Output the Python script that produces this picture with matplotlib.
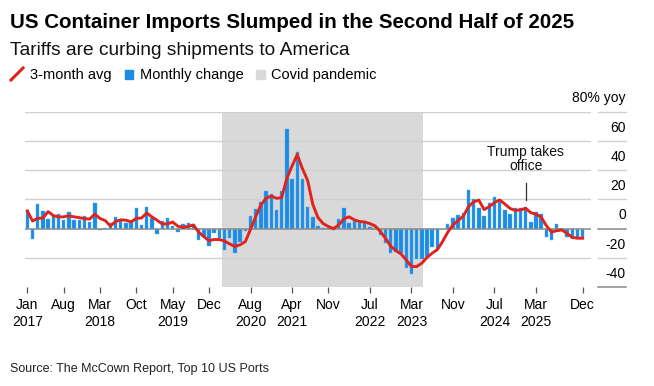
import matplotlib
matplotlib.use("Agg")
import matplotlib.pyplot as plt
from matplotlib.lines import Line2D
from matplotlib.patches import Rectangle

plt.rcParams['font.family'] = ['Liberation Sans', 'DejaVu Sans']

# months since Jan 2017 (0 .. 107 = Dec 2025)
monthly_change = [
    13, -7, 17, 12, 6.5, 8.5, 10, 5.7, 11.4, 6, 6.2, 8.6,            # 2017
    4.2, 17.3, -1, 0.7, 3.5, 8, 5.5, 3.6, 4.3, 13.9, 2.5, 14.5,       # 2018
    7, -3.6, 5, 7, 2, -2.4, 3.1, 3.6, 2.8, -7.5, -6, -11.8,           # 2019
    -3.2, -6.6, -14.6, -6.6, -16.4, -9.2, -1.4, 8.8, 13.3, 18.4, 25.7, 23.5,  # 2020
    12.7, 25.7, 68, 33.7, 52.6, 33.7, 14.6, 7.8, 1.8, 0.3, 0.2, -1,   # 2021
    6.5, 14, 3.6, 5.5, 3.8, 5.5, 0.8, 0.3, -4.7, -10, -16.4, -16.2,   # 2022
    -17, -27.2, -31, -21, -20.5, -19.5, -12.7, -14, -0.5, 3.1, 7.5, 9,  # 2023
    10.5, 26.5, 20, 14, 8.5, 17.3, 21.8, 18.5, 12.7, 10.2, 14.2, 14.2,  # 2024
    15, 4.5, 11.3, 10, -6.1, -7.7, 3.4, -0.5, -5.9, -7.3, -7.3, -6,   # 2025
]
avg_3m = [
    12, 5.2, 7, 7.2, 11.6, 8.9, 8, 8, 8.8, 8, 7.5, 6.8,
    6.5, 9.9, 6.9, 5.5, 1.8, 4.8, 6, 5.7, 4.6, 7, 7.2, 10.7,
    8, 5.7, 3.1, 3.2, 4.5, 1.6, 0.8, 1.6, 2.4, -2.4, -5.5, -8.3,
    -7.5, -7.5, -8.6, -10.5, -12.3, -11.1, -8.9, -0.5, 8.2, 16.2, 20.7, 22.3,
    20.7, 21.2, 34.4, 42.8, 50.7, 41, 33, 16.5, 7.5, 3.4, 1.4, 0,
    2.5, 6.7, 8, 6, 4.8, 4.5, 3.4, 1.8, -2, -6.6, -12, -15.1,
    -17.4, -21.5, -26, -26, -23.7, -19.8, -16.8, -14.4, -8.9, -2.5, 2.5, 5.5,
    8.5, 15, 18.3, 19.5, 13, 15, 17.8, 19.6, 16.8, 13.8, 12.4, 12.8,
    13.8, 10.9, 9.8, 7.8, 2, -2.4, -1.5, -0.9, -3.4, -6, -6.6, -6.6,
]
months = list(range(len(monthly_change)))

tick_pos = [0, 7, 14, 21, 28, 35, 43, 51, 58, 66, 74, 82, 90, 98, 107]
tick_lab = ["Jan\n2017", "Aug", "Mar\n2018", "Oct", "May\n2019", "Dec",
            "Aug\n2020", "Apr\n2021", "Nov", "Jul\n2022", "Mar\n2023", "Nov",
            "Jul\n2024", "Mar\n2025", "Dec"]
y_vals = [80, 60, 40, 20, 0, -20, -40]
y_labs = ["80% yoy", "60", "40", "20", "0", "-20", "-40"]
covid_span = (37.5, 76.2)
trump_month = 96

BLUE = "#1a8ce4"
RED = "#e1231d"
SHADE = "#d9d9d9"
W, H = 654, 386

fig = plt.figure(figsize=(W / 100, H / 100), dpi=100)

def fx(px):
    return px / W

def fy(py):
    return 1 - py / H

ax = fig.add_axes([fx(25), fy(287), fx(591) - fx(25), fy(111.7) - fy(287)])
ax.set_xlim(-0.45, 108.6)
ax.set_ylim(-40, 80)

ax.axvspan(*covid_span, color=SHADE, lw=0, zorder=0)
for v in y_vals:
    if v == -40:
        continue
    if v == 0:
        ax.axhline(v, color="#8a8a8a", lw=1.1, zorder=3)
    else:
        ax.axhline(v, color="#cfcfcf", lw=1.0, zorder=1)

ax.bar(months, monthly_change, width=0.66, color=BLUE, edgecolor="#5fb0f0",
       linewidth=0.3, zorder=2)
ax.plot(months, avg_3m, color=RED, lw=2.1, solid_joinstyle="round", zorder=4)

ax.plot([trump_month, trump_month], [19.6, 31.4], color="#333333", lw=0.9, zorder=5)
ax.text(trump_month, 47.5, "Trump takes\noffice", ha="center", va="center",
        fontsize=10, linespacing=1.05, color="#111111")

for s in ax.spines.values():
    s.set_visible(False)
ax.set_yticks([])
ax.set_xticks(tick_pos)
ax.set_xticklabels(tick_lab, fontsize=10, linespacing=1.25)
ax.tick_params(axis="x", length=4, width=0.9, color="#555555", pad=4)

# right-hand value labels
lab = fig.add_axes([fx(598), fy(287), fx(626) - fx(598), fy(111.7) - fy(287)])
lab.set_xlim(0, 1)
lab.set_ylim(-40, 80)
lab.axis("off")
for v, t in zip(y_vals, y_labs):
    dark = v in (0, -40)
    lab.axhline(v, color="#8a8a8a" if dark else "#cfcfcf", lw=1.1 if dark else 1.0,
                clip_on=False)
    lab.annotate(t, (1, v), xytext=(0, 4.5), textcoords="offset points",
                 ha="right", va="bottom", fontsize=10, annotation_clip=False)

# title block
fig.text(fx(10), fy(28), "US Container Imports Slumped in the Second Half of 2025",
         fontsize=14.8, fontweight="bold", va="baseline")
fig.text(fx(10), fy(55), "Tariffs are curbing shipments to America",
         fontsize=13.8, va="baseline", color="#111111")

# legend
fig.add_artist(Line2D([fx(11), fx(23)], [fy(80), fy(68)], color=RED, lw=2.2))
fig.text(fx(30), fy(79.5), "3-month avg", fontsize=10.5, va="baseline")
fig.add_artist(Rectangle((fx(124.5), fy(78.5)), fx(8.5), 8.5 / H, color=BLUE))
fig.text(fx(140), fy(79.5), "Monthly change", fontsize=10.5, va="baseline")
fig.add_artist(Rectangle((fx(256), fy(78.5)), fx(8.5), 8.5 / H, color=SHADE))
fig.text(fx(271), fy(79.5), "Covid pandemic", fontsize=10.5, va="baseline")

fig.text(fx(10.5), fy(372), "Source: The McCown Report, Top 10 US Ports",
         fontsize=9, va="baseline", color="#222222")

fig.savefig("out.png", dpi=100)
